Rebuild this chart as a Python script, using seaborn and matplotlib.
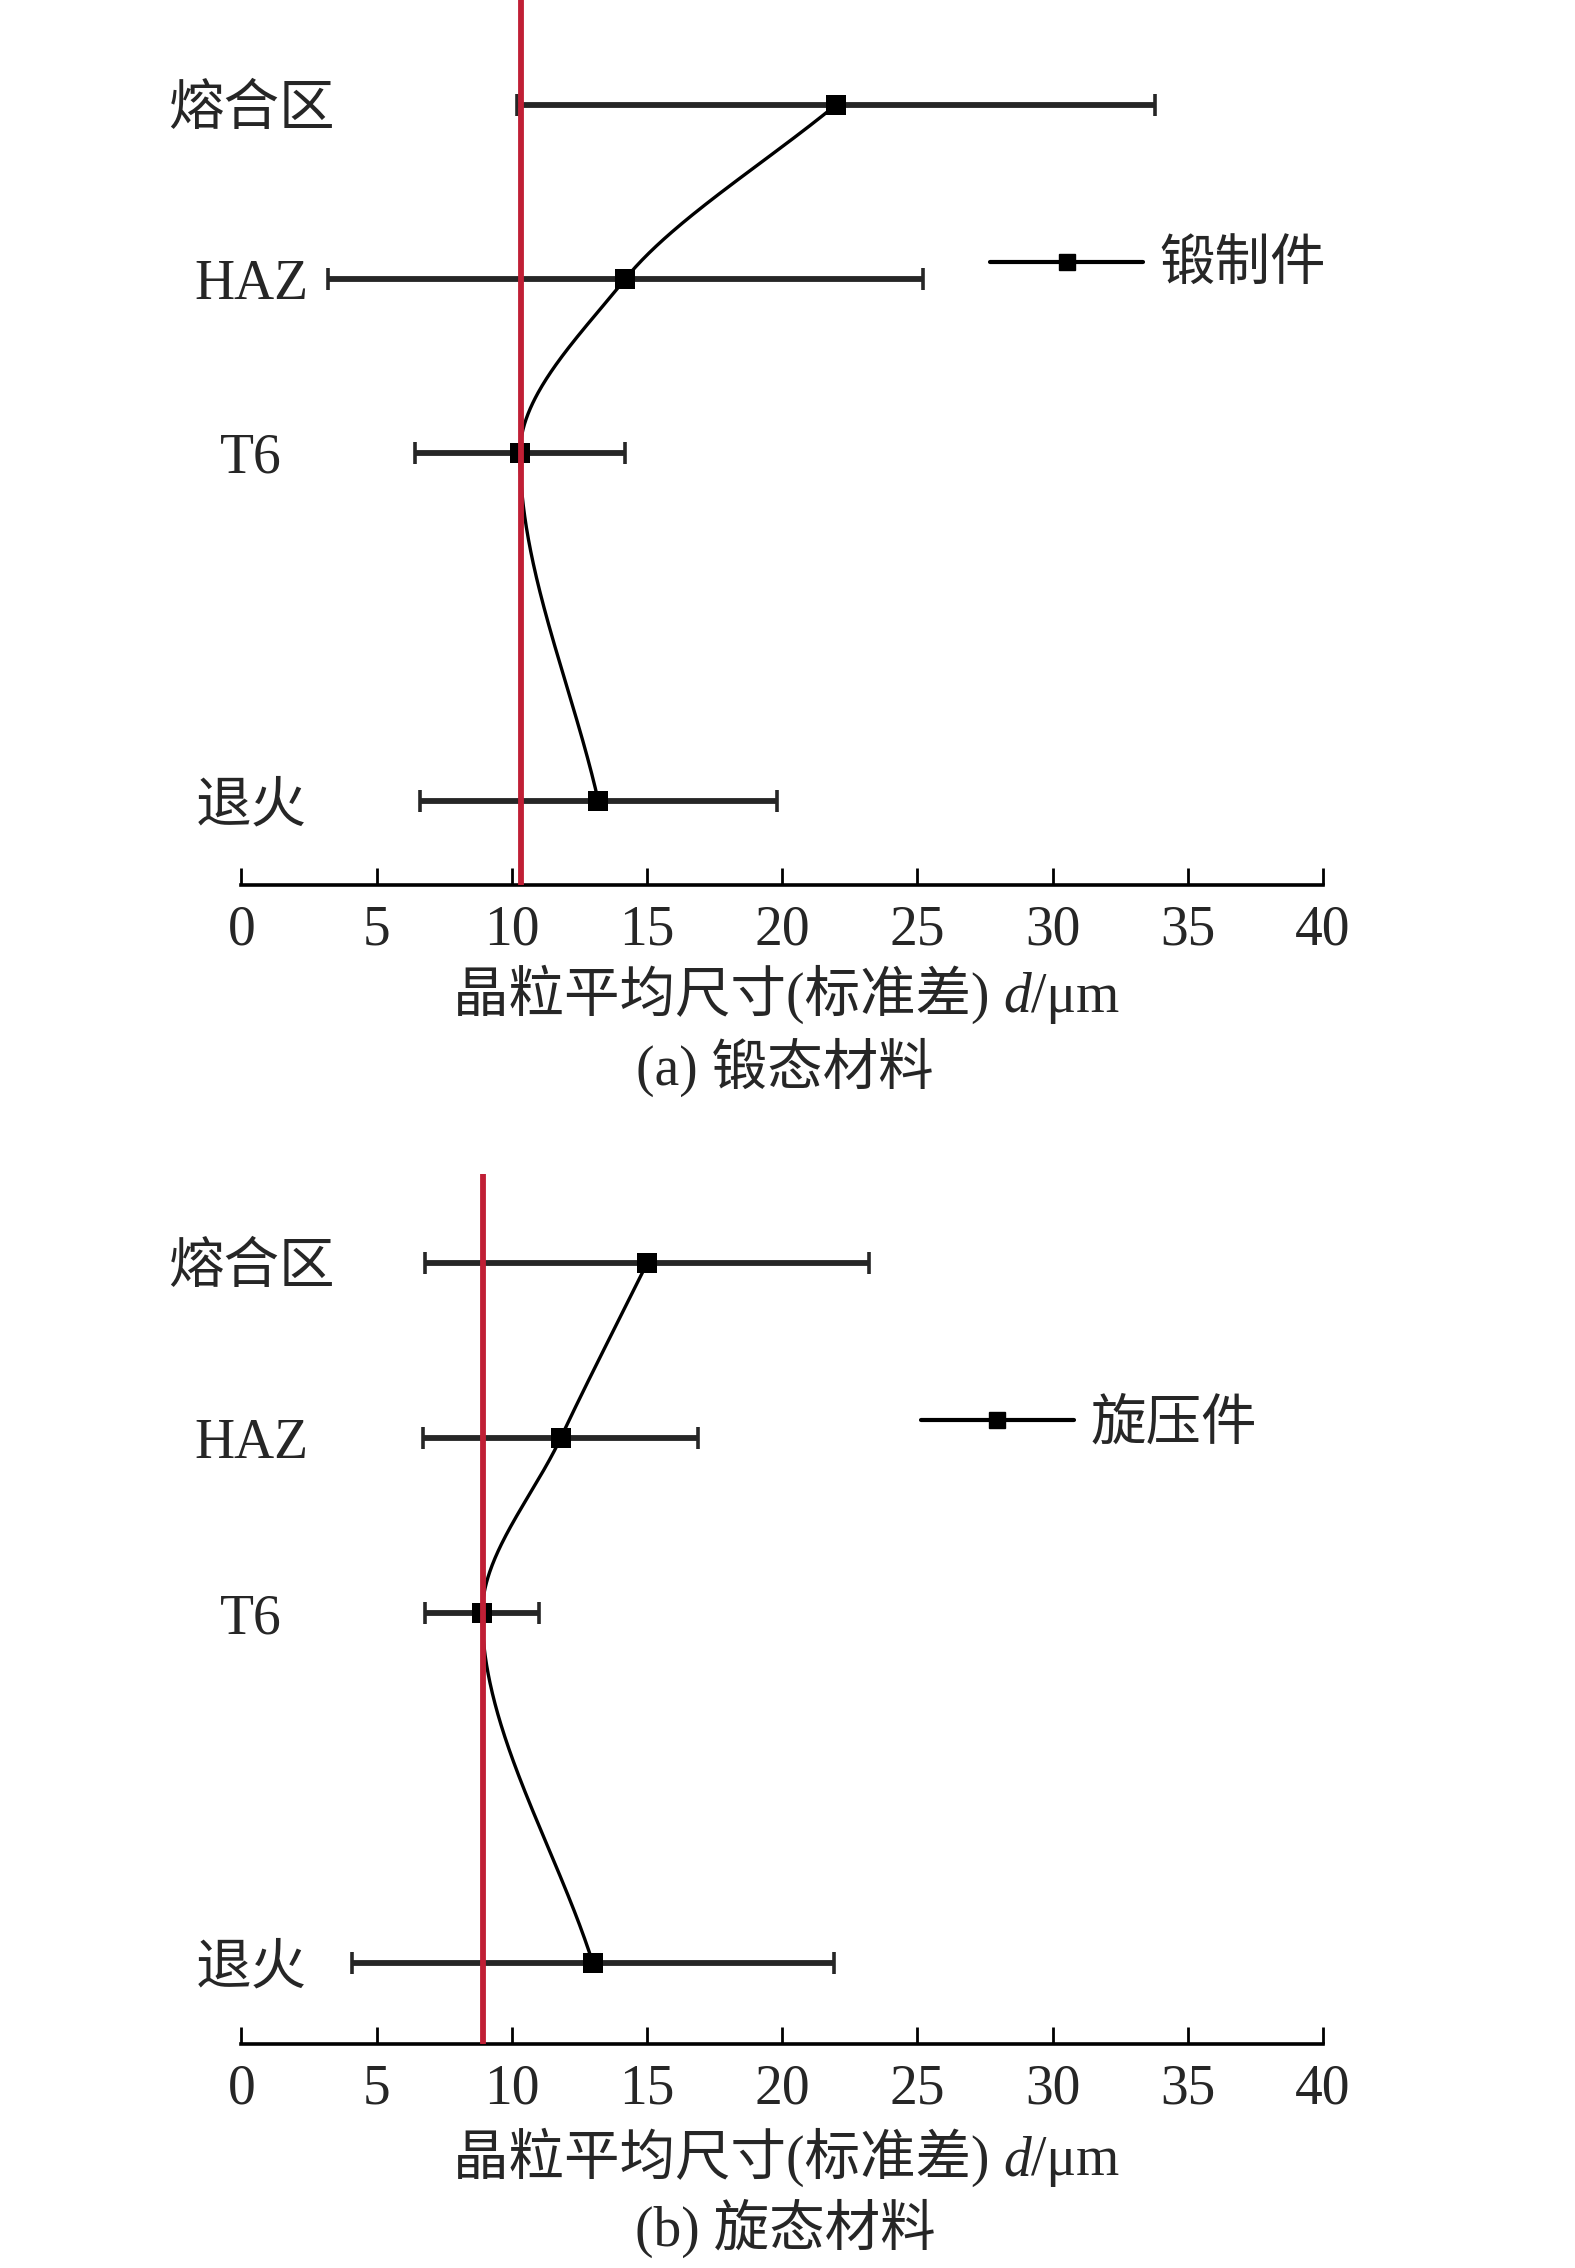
import numpy as np
import matplotlib
matplotlib.use("Agg")
import matplotlib.pyplot as plt
import seaborn as sns
from matplotlib.lines import Line2D
import pandas as pd

# ---------------- data ----------------
categories = ["熔合区", "HAZ", "T6", "退火"]
category_pos = [4, 3, 2, 0]

forged_mean = [22.0, 14.2, 10.3, 13.2]
forged_err = [11.8, 11.0, 3.9, 6.6]
forged_ref = 10.35

spun_mean = [15.0, 11.8, 8.9, 13.0]
spun_err = [8.2, 5.1, 2.1, 8.9]
spun_ref = 8.95

xticks = [0, 5, 10, 15, 20, 25, 30, 35, 40]
xlabel_main = "晶粒平均尺寸(标准差) "
xlabel_var = "d"
xlabel_unit = "/μm"
captions = ["(a) 锻态材料", "(b) 旋态材料"]
legend_labels = ["锻制件", "旋压件"]

# ---------------- style ----------------
sns.set_theme(style="white")
FAM = ["Liberation Serif", "Noto Sans CJK SC", "DejaVu Sans"]
plt.rcParams["font.family"] = FAM
FS = 40

W, H = 1575, 2268
fig = plt.figure(figsize=(W / 100, H / 100), dpi=100)


def smooth_curve(yk, xk, yy):
    """Monotone piecewise cubic Hermite of x as a function of y (chord slopes at ends)."""
    order = np.argsort(yk)
    yk = np.asarray(yk, float)[order]
    xk = np.asarray(xk, float)[order]
    n = len(yk)
    h = np.diff(yk)
    d = np.diff(xk) / h
    m = np.zeros(n)
    for i in range(1, n - 1):
        if d[i - 1] * d[i] > 0:
            w1 = 2 * h[i] + h[i - 1]
            w2 = h[i] + 2 * h[i - 1]
            m[i] = (w1 + w2) / (w1 / d[i - 1] + w2 / d[i])
        else:
            m[i] = 0.0
    m[0] = d[0]
    m[-1] = d[-1]
    out = np.empty_like(yy)
    for j, y in enumerate(yy):
        i = min(max(np.searchsorted(yk, y) - 1, 0), n - 2)
        t = (y - yk[i]) / h[i]
        h00 = 2 * t ** 3 - 3 * t ** 2 + 1
        h10 = t ** 3 - 2 * t ** 2 + t
        h01 = -2 * t ** 3 + 3 * t ** 2
        h11 = t ** 3 - t ** 2
        out[j] = h00 * xk[i] + h10 * h[i] * m[i] + h01 * xk[i + 1] + h11 * h[i] * m[i + 1]
    return out


def panel(rect, means, errs, ref, ylim, label, caption, leg_anchor, xl_y, cap_y):
    ax = fig.add_axes(rect)
    df = pd.DataFrame({"x": means, "y": category_pos, "err": errs})
    ax.errorbar(df["x"], df["y"], xerr=df["err"], fmt="none",
                ecolor="#262626", elinewidth=4.2, capsize=8, capthick=2.6, zorder=2)
    yy = np.linspace(min(category_pos), max(category_pos), 400)
    ax.plot(smooth_curve(category_pos, means, yy), yy, color="black", lw=2.4, zorder=3)
    sns.scatterplot(data=df, x="x", y="y", marker="s", s=220, color="black",
                    edgecolor="black", linewidth=0, ax=ax, zorder=4, legend=False)
    ax.axvline(ref, color="#c01f35", lw=4.2, zorder=6)

    ax.set_xlim(0, 40)
    ax.set_ylim(*ylim)
    ax.set_xticks(xticks)
    ax.set_xticklabels([str(t) for t in xticks])
    ax.set_yticks(category_pos)
    ax.set_yticklabels(categories)
    for lbl in ax.get_yticklabels():
        lbl.set_ha("center")
        lbl.set_fontsize(FS)
    for lbl in ax.get_xticklabels():
        lbl.set_fontsize(FS)
    ax.tick_params(axis="y", left=False, length=0, pad=-7)
    ax.tick_params(axis="x", bottom=True, direction="in", length=12, width=2,
                   pad=14, color="black")
    for s in ["top", "right", "left"]:
        ax.spines[s].set_visible(False)
    ax.spines["bottom"].set_linewidth(2.6)
    ax.spines["bottom"].set_color("black")
    ax.set_xlabel("")
    ax.set_ylabel("")
    ax.set_facecolor("white")

    h = Line2D([], [], color="black", lw=3.0, marker="s", markersize=11.5)
    ax.legend([h], [label], loc="center left", bbox_to_anchor=leg_anchor,
              frameon=False, handlelength=2.75, handletextpad=0.3,
              borderpad=0, borderaxespad=0, prop={"family": FAM, "size": FS})

    # x label with italic variable
    fig.canvas.draw()
    r = fig.canvas.get_renderer()
    x0 = 453 / W
    t1 = fig.text(x0, xl_y, xlabel_main, ha="left", va="baseline", fontsize=FS)
    bb = t1.get_window_extent(r)
    t2 = fig.text(bb.x1 / W, xl_y, xlabel_var, ha="left", va="baseline",
                  fontsize=FS, fontstyle="italic")
    bb2 = t2.get_window_extent(r)
    fig.text(bb2.x1 / W, xl_y, xlabel_unit, ha="left", va="baseline", fontsize=FS)
    fig.text(785 / W, cap_y, caption, ha="center", va="baseline", fontsize=FS)
    return ax


panel([241.5 / W, 1 - 885 / H, (1323 - 241.5) / W, 885 / H],
      forged_mean, forged_err, forged_ref, (-0.48, 4.6), legend_labels[0], captions[0],
      (0.6925, 0.698), 1 - 1012 / H, 1 - 1085 / H)
panel([241.5 / W, 1 - 2044 / H, (1323 - 241.5) / W, (2044 - 1174) / H],
      spun_mean, spun_err, spun_ref, (-0.46, 4.51), legend_labels[1], captions[1],
      (0.6283, 0.7105), 1 - 2175 / H, 1 - 2246 / H)

fig.savefig("out.png", dpi=100, facecolor="white")
